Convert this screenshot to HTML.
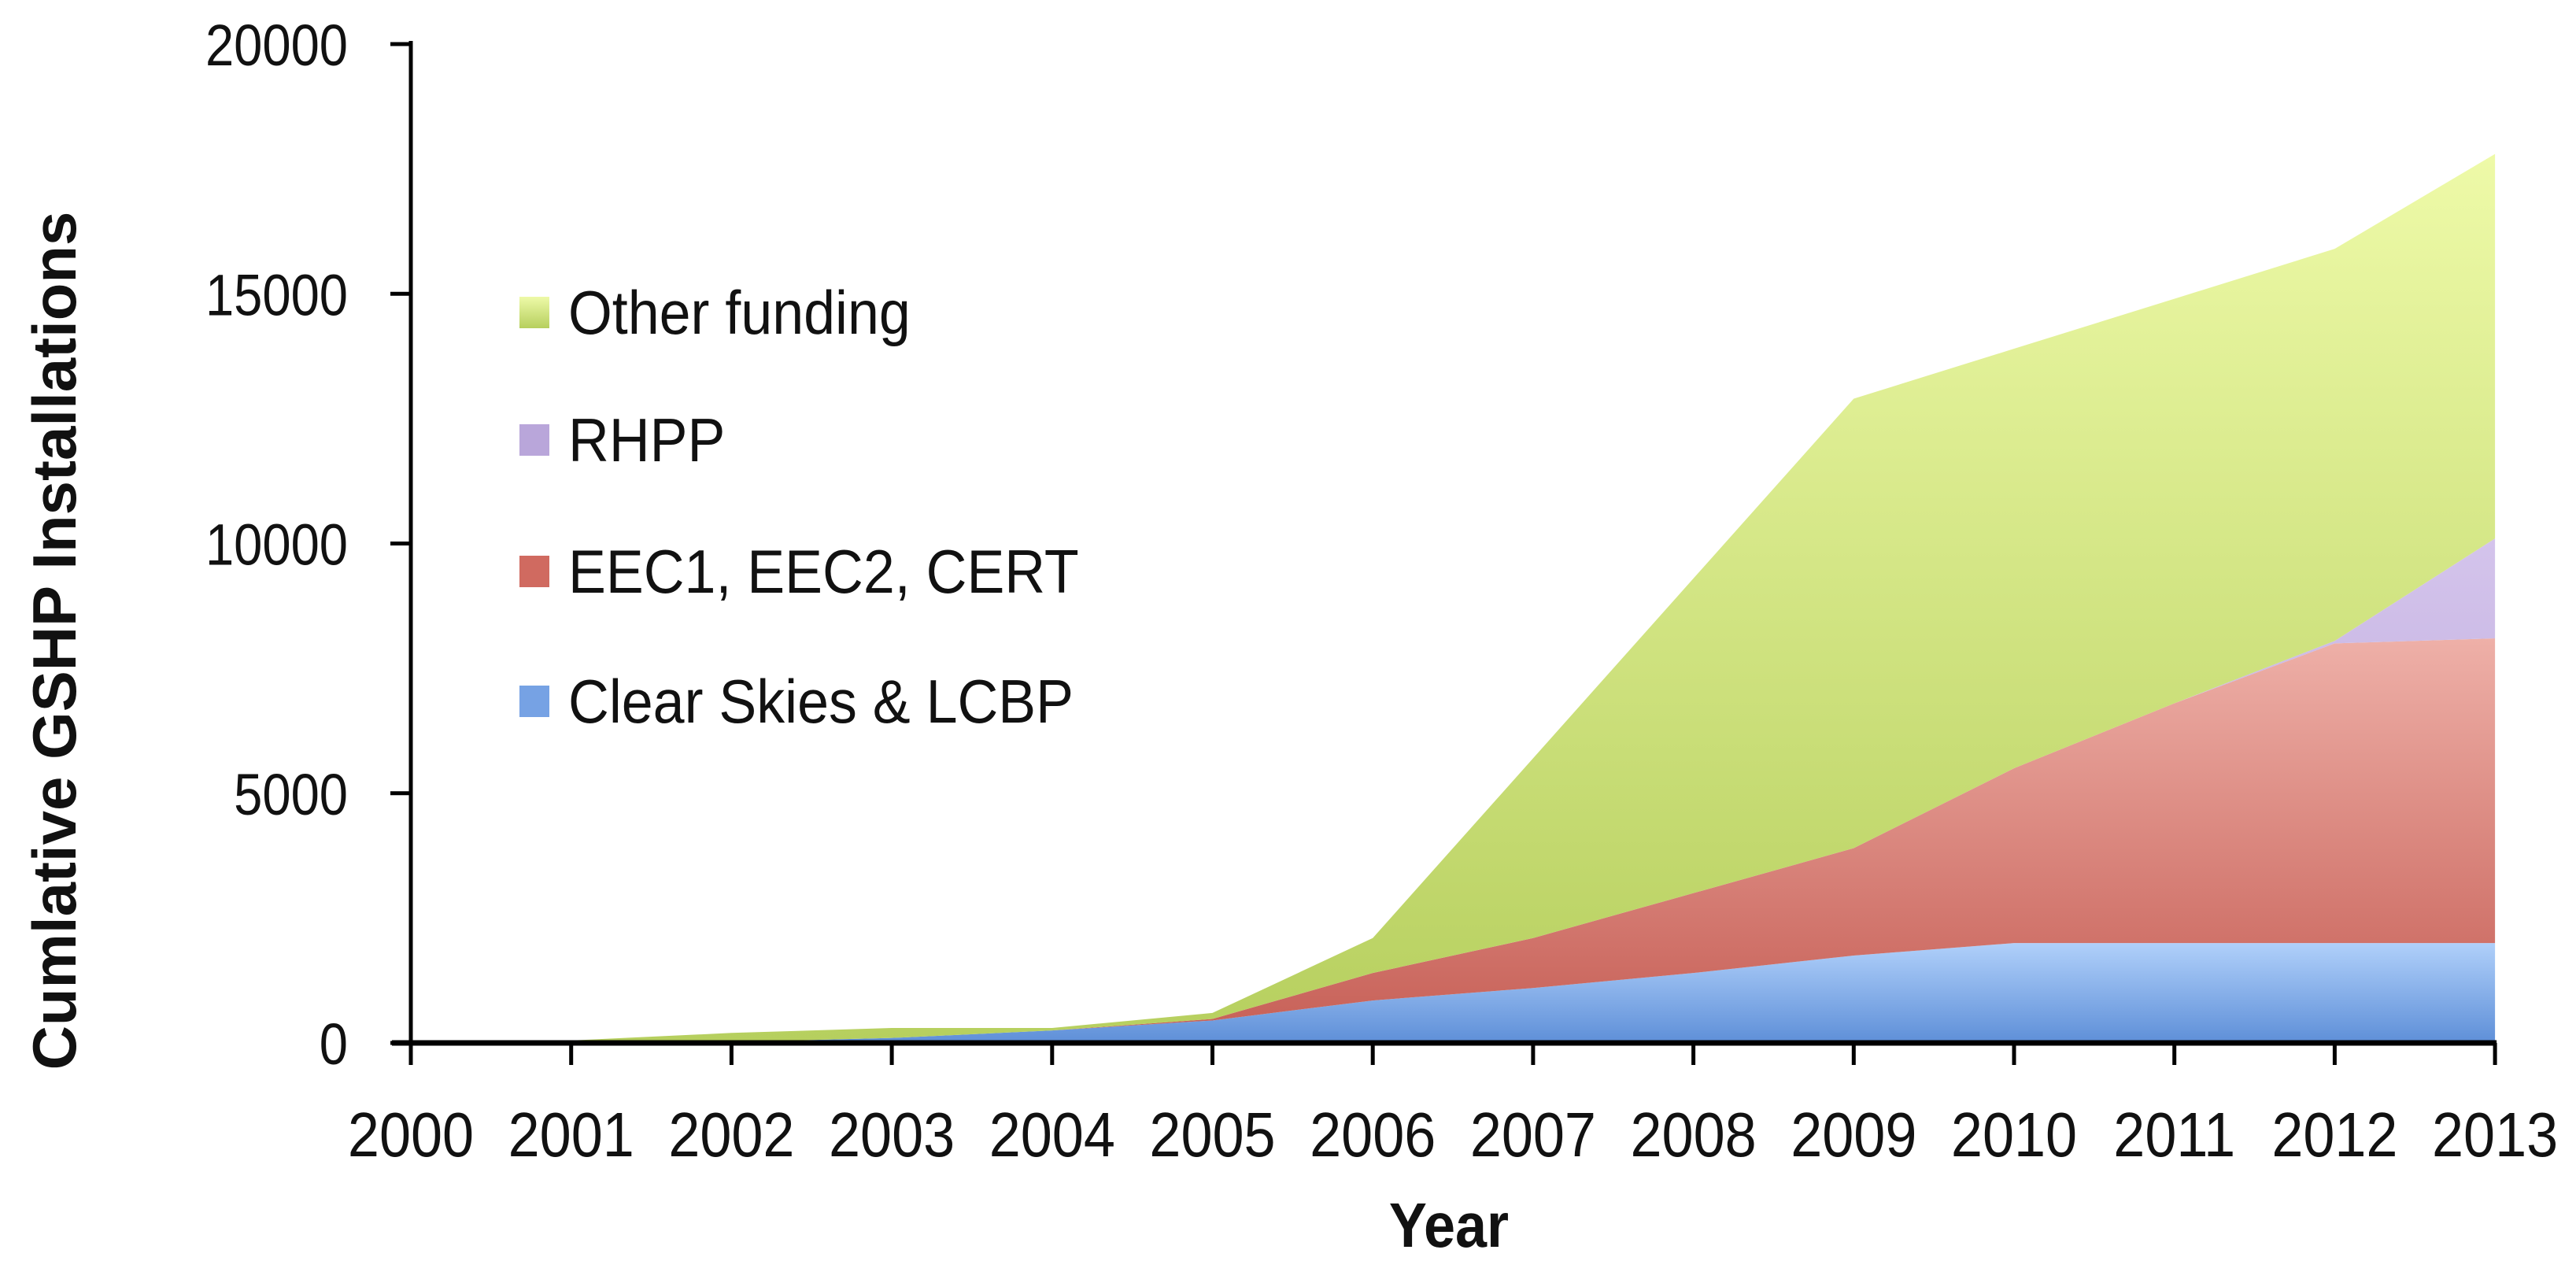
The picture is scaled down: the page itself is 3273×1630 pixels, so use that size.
<!DOCTYPE html>
<html><head><meta charset="utf-8"><style>
html,body{margin:0;padding:0;background:#fff;}
svg{display:block;}
text{font-family:"Liberation Sans",sans-serif;fill:#111;}
</style></head><body>
<svg id="chart" width="3273" height="1630" viewBox="0 0 3273 1630" xmlns="http://www.w3.org/2000/svg">
<defs>
<linearGradient id="gGreen" x1="0" y1="0" x2="0" y2="1"><stop offset="0" stop-color="#eefaa8"/><stop offset="1" stop-color="#b6cf5e"/></linearGradient>
<linearGradient id="gRed" x1="0" y1="0" x2="0" y2="1"><stop offset="0" stop-color="#eeb0a8"/><stop offset="1" stop-color="#c65e55"/></linearGradient>
<linearGradient id="gBlue" x1="0" y1="0" x2="0" y2="1"><stop offset="0" stop-color="#b0d0fa"/><stop offset="1" stop-color="#5e8fd8"/></linearGradient>
<linearGradient id="gPurple" x1="0" y1="0" x2="0" y2="1"><stop offset="0" stop-color="#d4c4ec"/><stop offset="1" stop-color="#b4a0d4"/></linearGradient>
</defs>
<g id="areas"></g>
<g id="axes"></g>
<g id="legend"></g>
<text transform="translate(96,814) rotate(-90)" text-anchor="middle" font-size="78" font-weight="bold">Cumlative GSHP Installations</text>
<text transform="translate(1841,1584) scale(0.9,1)" text-anchor="middle" font-size="80" font-weight="bold">Year</text>
</svg>
<script>
const years = [2000,2001,2002,2003,2004,2005,2006,2007,2008,2009,2010,2011,2012,2013];
const clearSkies = [0,0,20,100,250,450,850,1100,1400,1750,2000,2000,2000,2000];
const eecCert = [0,0,0,0,0,30,550,1000,1600,2150,3500,4800,6000,6100];
const rhpp = [0,0,0,0,0,0,0,0,0,0,0,0,50,2000];
const otherFunding = [0,50,180,200,50,120,700,3600,6300,9000,8400,8100,7850,7700];
const yTicks = [0,5000,10000,15000,20000];
const seriesNames = ["Other funding","RHPP","EEC1, EEC2, CERT","Clear Skies & LCBP"];

const NS="http://www.w3.org/2000/svg";
const X0=522, XS=203.7, Y0=1325, YTOP=56, YMAX=20000;
const xPos=i=>X0+i*XS;
const yPos=v=>Y0-(v/YMAX)*(Y0-YTOP);
function mk(tag,attrs,parent){const e=document.createElementNS(NS,tag);for(const k in attrs)e.setAttribute(k,attrs[k]);parent.appendChild(e);return e;}

const stackOrder=[{d:clearSkies,f:"url(#gBlue)",n:"area-clear-skies"},{d:eecCert,f:"url(#gRed)",n:"area-eec-cert"},{d:rhpp,f:"url(#gPurple)",n:"area-rhpp"},{d:otherFunding,f:"url(#gGreen)",n:"area-other-funding"}];
const areas=document.getElementById('areas');
let base=years.map(()=>0);
const drawn=[];
stackOrder.forEach(s=>{
  const top=base.map((b,i)=>b+s.d[i]);
  drawn.push({top:top.slice(),base:base.slice(),s});
  base=top;
});
drawn.forEach(o=>{
  let p="M"+years.map((y,i)=>xPos(i)+","+yPos(o.top[i])).join(" L");
  for(let i=years.length-1;i>=0;i--)p+=" L"+xPos(i)+","+yPos(o.base[i]);
  p+=" Z";
  const el=mk('path',{d:p,fill:o.s.f},areas);
  
  
});

const axes=document.getElementById('axes');
const ya=mk('line',{x1:X0,y1:YTOP-4,x2:X0,y2:Y0+4,stroke:"#000","stroke-width":5},axes);


const xa=mk('line',{x1:X0-24,y1:Y0,x2:xPos(years.length-1)+2,y2:Y0,stroke:"#000","stroke-width":7},axes);


yTicks.forEach(v=>{
  const t=mk('line',{x1:X0-26,y1:yPos(v),x2:X0,y2:yPos(v),stroke:"#000","stroke-width":5},axes);
  
  
  const l=mk('text',{transform:"translate(442,"+(yPos(v)+27)+") scale(0.88,1)","text-anchor":"end","font-size":74},axes);
  l.textContent=v;
  
  
});
years.forEach((y,i)=>{
  const t=mk('line',{x1:xPos(i),y1:Y0,x2:xPos(i),y2:Y0+28,stroke:"#000","stroke-width":5},axes);
  
  
  const l=mk('text',{transform:"translate("+xPos(i)+",1469) scale(0.9,1)","text-anchor":"middle","font-size":80},axes);
  l.textContent=y;
  
  
});

const legend=document.getElementById('legend');
const legFills=["url(#gGreen)","#b9a6da","#d06a60","#76a2e4"];
const legY=[397,559,726,891];
seriesNames.forEach((n,i)=>{
  const r=mk('rect',{x:660,y:legY[i]-20,width:38,height:40,fill:legFills[i]},legend);
  
  
  const t=mk('text',{transform:"translate(722,"+(legY[i]+27)+") scale(0.92,1)","font-size":78},legend);
  t.textContent=n;
  
  
});
</script>
</body></html>
